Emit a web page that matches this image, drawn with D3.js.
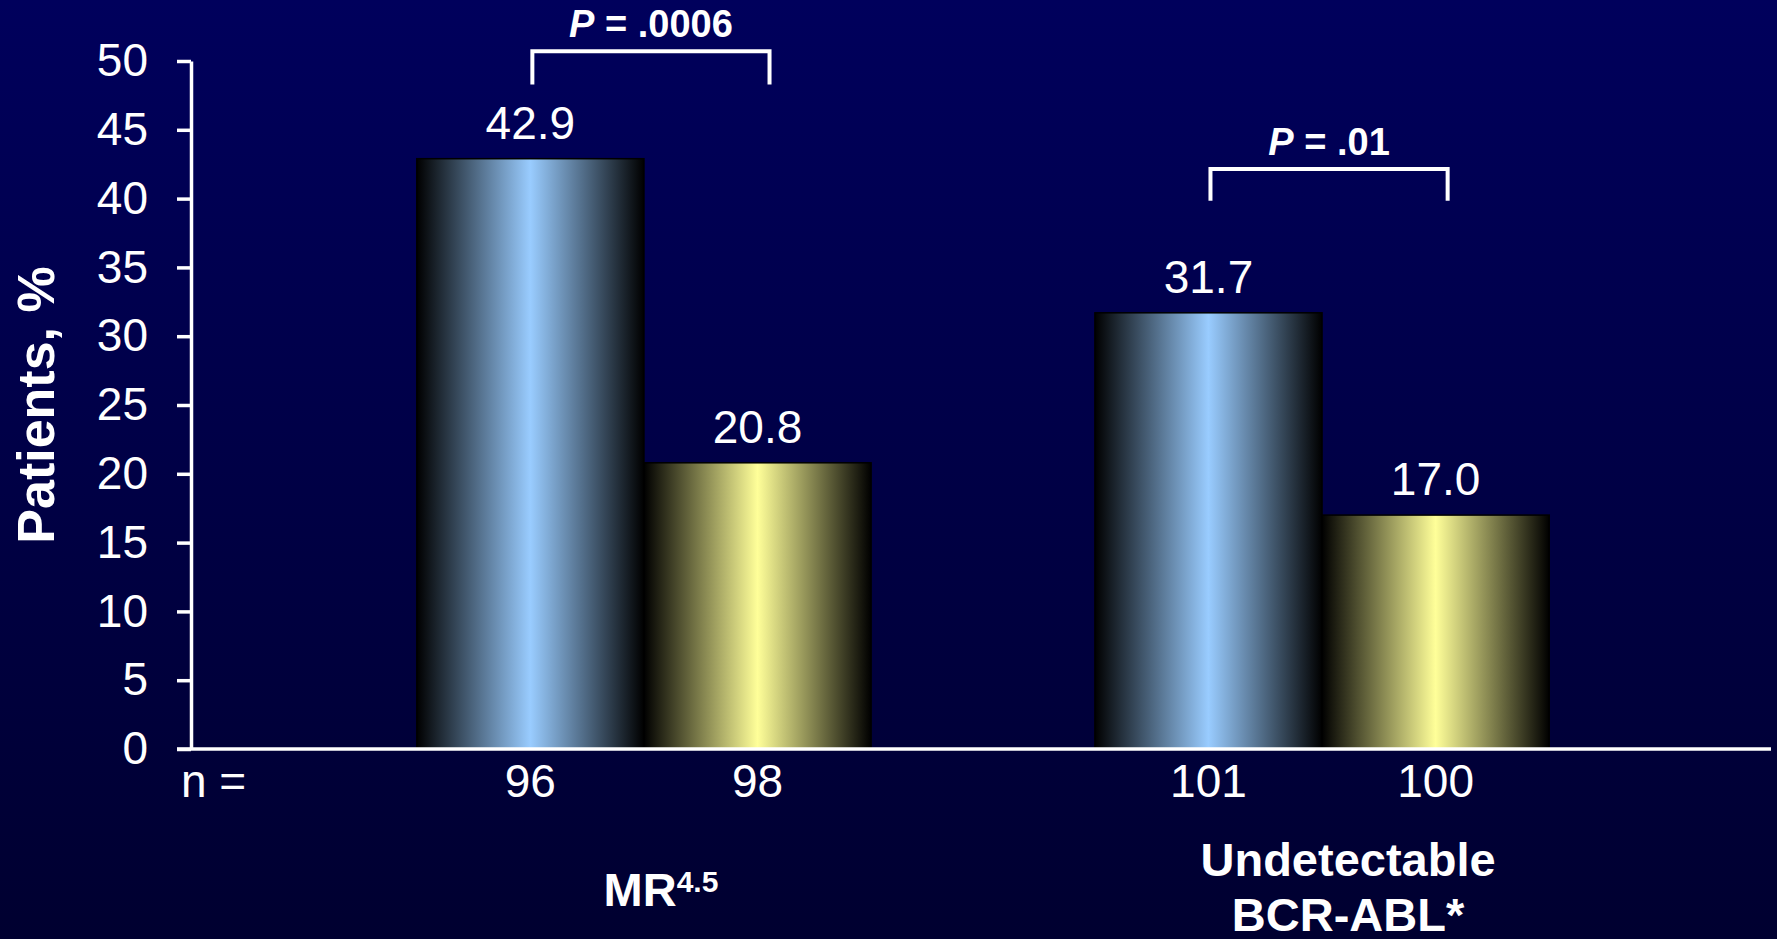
<!DOCTYPE html>
<html><head><meta charset="utf-8">
<script src="https://cdn.jsdelivr.net/npm/d3@7"></script>
<style>html,body{margin:0;padding:0;overflow:hidden;background:#000040}</style>
</head><body>
<svg id="chart" width="1777" height="939"></svg>
<script>
// ---- data ----
const categories = ["MR4.5", "Undetectable BCR-ABL*"];
const seriesKeys = ["armA", "armB"];
const armA = [42.9, 31.7];
const armB = [20.8, 17.0];
const nArmA = [96, 101];
const nArmB = [98, 100];
const yTicks = [0, 5, 10, 15, 20, 25, 30, 35, 40, 45, 50];
const pLabels = [".0006", ".01"];
const bracketLevels = [50.7, 42.15];
const bracketDrops = [48.3, 39.85];

// ---- setup ----
const W = 1777, H = 939;
const FONT = "'Liberation Sans', Arial, Helvetica, sans-serif";
const svg = d3.select("#chart").attr("font-family", FONT);
const defs = svg.append("defs");

const bg = defs.append("linearGradient").attr("id", "bg").attr("x1", 0).attr("y1", 0).attr("x2", 0).attr("y2", 1);
bg.append("stop").attr("offset", 0).attr("stop-color", "#00005c");
bg.append("stop").attr("offset", 1).attr("stop-color", "#000030");
svg.append("rect").attr("width", W).attr("height", H).attr("fill", "url(#bg)");

const barColors = { armA: "#99ccff", armB: "#ffff99" };
seriesKeys.forEach(k => {
  const g = defs.append("linearGradient").attr("id", "g-" + k).attr("x1", 0).attr("y1", 0).attr("x2", 1).attr("y2", 0);
  g.append("stop").attr("offset", 0).attr("stop-color", "#000000");
  g.append("stop").attr("offset", 0.5).attr("stop-color", barColors[k]);
  g.append("stop").attr("offset", 1).attr("stop-color", "#000000");
});

const x0 = d3.scaleBand().domain(categories).range([193, 1773]).paddingInner(0.33).paddingOuter(0.33);
const x1 = d3.scaleBand().domain(seriesKeys).range([0, x0.bandwidth()]).padding(0);
const y = d3.scaleLinear().domain([0, 50]).range([749, 61]);

const rows = categories.map((c, i) => ({
  cat: c,
  values: [
    { key: "armA", v: armA[i], n: nArmA[i] },
    { key: "armB", v: armB[i], n: nArmB[i] }
  ]
}));
const cx = (cat, key) => x0(cat) + x1(key) + x1.bandwidth() / 2;

// ---- bars ----
const groups = svg.selectAll("g.grp").data(rows).join("g").attr("class", "grp");
groups.selectAll("rect").data(d => d.values.map(v => ({ ...v, cat: d.cat }))).join("rect")
  .attr("x", d => x0(d.cat) + x1(d.key))
  .attr("y", d => y(d.v))
  .attr("width", x1.bandwidth())
  .attr("height", d => y(0) - y(d.v))
  .attr("fill", d => "url(#g-" + d.key + ")")
  .attr("stroke", "#000")
  .attr("stroke-width", 1.5);

// value labels
groups.selectAll("text.val").data(d => d.values.map(v => ({ ...v, cat: d.cat }))).join("text")
  .attr("class", "val")
  .attr("x", d => cx(d.cat, d.key))
  .attr("y", d => y(d.v) - 20)
  .attr("text-anchor", "middle")
  .attr("font-size", 46)
  .attr("fill", "#fff")
  .text(d => d3.format(".1f")(d.v));

// n labels
groups.selectAll("text.n").data(d => d.values.map(v => ({ ...v, cat: d.cat }))).join("text")
  .attr("class", "n")
  .attr("x", d => cx(d.cat, d.key))
  .attr("y", 797)
  .attr("text-anchor", "middle")
  .attr("font-size", 46)
  .attr("fill", "#fff")
  .text(d => d.n);

svg.append("text").attr("x", 181).attr("y", 797).attr("font-size", 46).attr("fill", "#fff").text("n =");

// ---- y axis ----
const yAxis = svg.append("g").attr("transform", "translate(191,0)")
  .call(d3.axisLeft(y).tickValues(yTicks).tickSizeInner(14).tickSizeOuter(0).tickPadding(29));
yAxis.select(".domain").attr("stroke", "#fff").attr("stroke-width", 3.5);
yAxis.selectAll(".tick line").attr("stroke", "#fff").attr("stroke-width", 3.5);
yAxis.selectAll(".tick text").attr("fill", "#fff").attr("font-size", 46).attr("font-family", FONT);

// baseline
svg.append("line").attr("x1", 177).attr("x2", 1771).attr("y1", y(0)).attr("y2", y(0))
  .attr("stroke", "#fff").attr("stroke-width", 3.5);

// y title
svg.append("text").attr("transform", "translate(54," + (y(25)) + ") rotate(-90)")
  .attr("text-anchor", "middle").attr("font-size", 52).attr("font-weight", "bold").attr("fill", "#fff")
  .text("Patients, %");

// ---- category labels ----
const catLab = svg.append("g").attr("fill", "#fff").attr("font-weight", "bold").attr("text-anchor", "middle");
const t1 = catLab.append("text").attr("x", x0(categories[0]) + x0.bandwidth() / 2 + 17).attr("y", 906).attr("font-size", 47);
t1.append("tspan").text("MR");
t1.append("tspan").attr("font-size", 30).attr("dy", -14).text("4.5");
const lx2 = x0(categories[1]) + x0.bandwidth() / 2 + 26;
const t2 = catLab.append("text").attr("x", lx2).attr("font-size", 47);
t2.append("tspan").attr("x", lx2).attr("y", 876).text("Undetectable");
t2.append("tspan").attr("x", lx2).attr("y", 931).text("BCR-ABL*");

// ---- significance brackets ----
rows.forEach((r, i) => {
  const xa = cx(r.cat, "armA") + 2;
  const xb = cx(r.cat, "armB") + 12;
  const yt = y(bracketLevels[i]);
  const yb = y(bracketDrops[i]);
  svg.append("path")
    .attr("d", `M${xa},${yb}V${yt}H${xb}V${yb}`)
    .attr("fill", "none").attr("stroke", "#fff").attr("stroke-width", 4);
  const pt = svg.append("text").attr("x", (xa + xb) / 2).attr("y", yt - 14)
    .attr("text-anchor", "middle").attr("font-size", 38).attr("font-weight", "bold").attr("fill", "#fff");
  pt.append("tspan").attr("font-style", "italic").text("P");
  pt.append("tspan").text(" = " + pLabels[i]);
});
</script>
</body></html>
